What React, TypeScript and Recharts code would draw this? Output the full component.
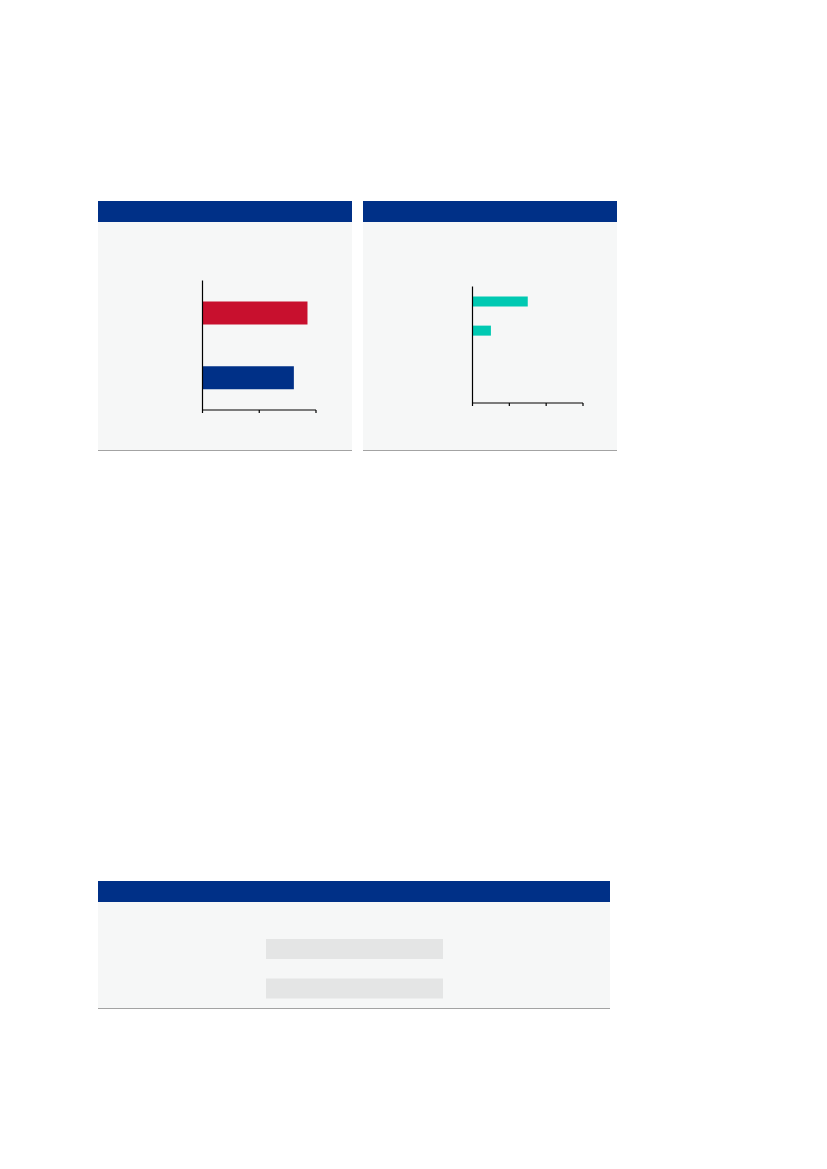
import { BarChart, Bar, XAxis, YAxis, Cell } from "recharts";

// left panel: two horizontal bars
const leftCategories = ["a", "b"];
const leftValues = [1.85, 1.61];
const leftColors = ["#C8102E", "#003087"];
const leftTicks = [0, 1, 2];

// right panel: four rows, two of them empty
const rightCategories = ["a", "b", "c", "d"];
const rightValues = [1.5, 0.5, 0, 0];
const rightTicks = [0, 1, 2, 3];

// bottom panel: two grey placeholder bars
const bottomCategories = ["a", "b"];
const bottomValues = [1, 1];

const NAVY = "#003087";
const TEAL = "#00C9B2";
const PANEL_BG = "#F6F7F7";
const GREY_BAR = "#E4E5E5";

const leftData = leftCategories.map((name, i) => ({ name, value: leftValues[i] }));
const rightData = rightCategories.map((name, i) => ({ name, value: rightValues[i] }));
const bottomData = bottomCategories.map((name, i) => ({ name, value: bottomValues[i] }));

// the reference shows tick marks but no tick labels
const NoLabel = () => <g />;

const Panel = ({ left, top, width, height }: { left: number; top: number; width: number; height: number }) => (
  <div style={{ position: "absolute", left, top, width, height, background: PANEL_BG, borderBottom: "1px solid #A3A3A3", boxSizing: "border-box" }}>
    <div style={{ height: 21, background: NAVY }} />
  </div>
);

const App = () => {
  return (
    <div style={{ position: "relative", width: 827, height: 1169, margin: -8, background: "#fff" }}>
      <Panel left={98} top={201} width={254} height={250} />
      <Panel left={363} top={201} width={254} height={250} />
      <Panel left={98} top={881} width={512} height={128} />

      {/* left chart */}
      <div style={{ position: "absolute", left: 196, top: 280 }}>
        <BarChart width={125} height={140} layout="vertical" data={leftData} margin={{ top: 0.5, right: 5, bottom: 0, left: 5.5 }} barSize={23}>
          <XAxis type="number" domain={[0, 2]} ticks={leftTicks} tick={<NoLabel />} tickSize={3} height={10} stroke="#000" axisLine={{ stroke: "#000", strokeWidth: 1.2 }} tickLine={{ stroke: "#000", strokeWidth: 1.2 }} />
          <YAxis type="category" dataKey="name" width={1} tick={<NoLabel />} tickLine={false} stroke="#000" axisLine={{ stroke: "#000", strokeWidth: 1.2 }} />
          <Bar dataKey="value" isAnimationActive={false}>
            {leftData.map((_, i) => (
              <Cell key={`l-${i}`} fill={leftColors[i]} />
            ))}
          </Bar>
        </BarChart>
      </div>

      {/* right chart */}
      <div style={{ position: "absolute", left: 466, top: 286 }}>
        <BarChart width={122} height={127} layout="vertical" data={rightData} margin={{ top: 0.5, right: 5, bottom: 0, left: 5.5 }} barSize={10}>
          <XAxis type="number" domain={[0, 3]} ticks={rightTicks} tick={<NoLabel />} tickSize={3} height={10} stroke="#000" axisLine={{ stroke: "#000", strokeWidth: 1.2 }} tickLine={{ stroke: "#000", strokeWidth: 1.2 }} />
          <YAxis type="category" dataKey="name" width={1} tick={<NoLabel />} tickLine={false} stroke="#000" axisLine={{ stroke: "#000", strokeWidth: 1.2 }} />
          <Bar dataKey="value" fill={TEAL} isAnimationActive={false} />
        </BarChart>
      </div>

      {/* bottom chart */}
      <div style={{ position: "absolute", left: 266, top: 929 }}>
        <BarChart width={177} height={79} layout="vertical" data={bottomData} margin={{ top: 0, right: 0, bottom: 0, left: 0 }} barSize={20}>
          <XAxis type="number" domain={[0, 1]} hide />
          <YAxis type="category" dataKey="name" hide />
          <Bar dataKey="value" fill={GREY_BAR} isAnimationActive={false} />
        </BarChart>
      </div>
    </div>
  );
};

export default App;
